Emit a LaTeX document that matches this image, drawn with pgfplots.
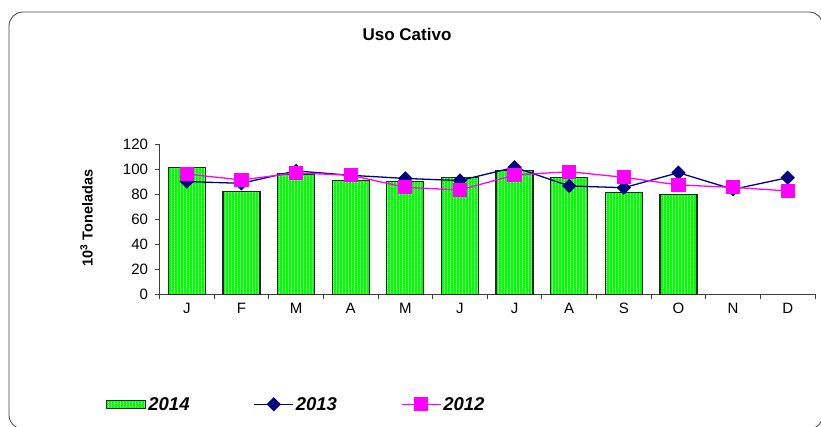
\documentclass[border=0pt]{standalone}
\usepackage{fontspec}
\setmainfont{Liberation Sans}
\usepackage{pgfplots}
\pgfplotsset{compat=1.18}
\usetikzlibrary{patterns}
\pgfdeclarepatternformonly{vstripes}{\pgfpointorigin}{\pgfqpoint{3pt}{2pt}}{\pgfqpoint{3pt}{2pt}}{\pgfpathrectangle{\pgfpointorigin}{\pgfqpoint{0.9pt}{2pt}}\pgfusepath{fill}}
\definecolor{navy13}{RGB}{0,0,128}
\definecolor{mag12}{RGB}{255,0,255}
\definecolor{bargreen}{RGB}{0,255,0}
\pgfplotsset{
  barlegend/.style={legend image code/.code={\draw[##1] (0pt,-3.8pt) rectangle (39pt,3.8pt);}},
  linelegend/.style={legend image code/.code={\draw[##1, mark repeat=2, mark phase=2] plot coordinates {(0pt,0pt) (19.5pt,0pt) (39pt,0pt)};}},
}
\begin{document}
\begin{tikzpicture}[x=1pt,y=1pt]
\useasboundingbox (0,0) rectangle (821,427);
\draw[black!75, line width=0.8pt, rounded corners=14pt] (9,-2) rectangle (823,415);
\begin{axis}[
  at={(159.5pt,132.7pt)}, anchor=south west,
  scale only axis, width=655.5pt, height=150.3pt,
  xmin=-0.5, xmax=11.5, ymin=0, ymax=120,
  ytick={0,20,...,120},
  xtick={0,...,11},
  xticklabels={J,F,M,A,M,J,J,A,S,O,N,D},
  minor xtick={-0.5,0.5,...,11.5},
  axis x line*=bottom, axis y line*=left,
  axis line style={black!75, line width=0.8pt},
  tick align=outside,
  major tick length=5pt, minor tick length=5pt,
  tick style={black!75, line width=0.8pt},
  every major x tick/.append style={draw=none},
  /pgf/number format/assume math mode=true,
  tick label style={font=\fontsize{15}{15}\selectfont},
  yticklabel style={xshift=-3pt},
  title={Uso Cativo},
  title style={font=\fontsize{17}{17}\selectfont\bfseries, at={(0.3776,1.692)}, anchor=center},
  ylabel={10\textsuperscript{3} Toneladas},
  ylabel style={font=\fontsize{14.5}{14.5}\selectfont\bfseries, at={(-0.1115,0.5077)}, anchor=center},
  legend columns=3,
  legend cell align=left,
  legend style={at={(-0.0816,-0.732)}, anchor=west, draw=none, fill=none, inner sep=0pt,
    font=\fontsize{18.5}{18.5}\selectfont\bfseries\itshape,
    /tikz/every even column/.append style={column sep=62pt}},
]
\addplot[ybar, bar width=37pt, draw=black!85, line width=1.2pt, pattern=vstripes, pattern color=white, preaction={fill=bargreen}, barlegend]
  coordinates {(0,101) (1,82) (2,96) (3,91) (4,90) (5,93) (6,99) (7,93) (8,81.5) (9,79.5)};
\addlegendentry{2014}
\addplot[navy13, line width=1.3pt, mark=square*, mark size=4.4pt, mark options={rotate=45, solid}, linelegend]
  coordinates {(0,90) (1,88.6) (2,98.5) (3,95) (4,92.5) (5,90.8) (6,101.4) (7,86.5) (8,85.1) (9,97.1) (10,83.8) (11,93.1)};
\addlegendentry{2013}
\addplot[mag12, line width=1.3pt, mark=square*, mark size=6.5pt, mark options={solid}, linelegend]
  coordinates {(0,96) (1,91.3) (2,97) (3,95) (4,85.4) (5,83.3) (6,95.2) (7,97.9) (8,93.4) (9,87.3) (10,85.4) (11,82.5)};
\addlegendentry{2012}
\end{axis}
\end{tikzpicture}
\end{document}
